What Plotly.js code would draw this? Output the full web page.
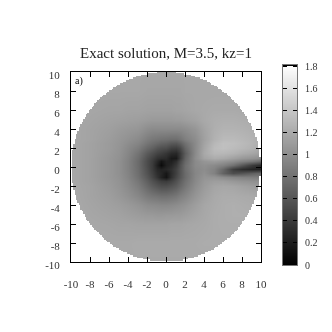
<!DOCTYPE html>
<html><head><meta charset="utf-8">
<script src="https://cdn.plot.ly/plotly-3.0.1.min.js"></script>
<style>html,body{margin:0;padding:0;background:#fff}#c{width:332px;height:332px;filter:blur(.35px)}</style>
</head><body><div id="c"></div>
<script>
const gridX=[-10,-8,-6,-5,-4,-3,-2,-1.5,-1,-.5,0,.5,1,1.5,2,3,4,5,6,7,8,9,10];
const gridY=[-10,-8,-6,-5,-4,-3,-2,-1.5,-1,-.6,-.2,.2,.6,1,1.5,2,2.5,3,4,5,6,8,10];
const solution=[
[1.2,1.2,1.2,1.2,1.2,1.2,1.2,1.2,1.2,1.2,1.2,1.2,1.2,1.2,1.2,1.2,1.2,1.2,1.2,1.2,1.2,1.2,1.2],
[1.2,1.2,1.2,1.2,1.2,1.21,1.21,1.21,1.21,1.21,1.21,1.21,1.21,1.21,1.21,1.21,1.22,1.22,1.22,1.22,1.22,1.22,1.22],
[1.2,1.19,1.18,1.17,1.17,1.16,1.16,1.16,1.16,1.16,1.16,1.17,1.17,1.17,1.18,1.19,1.2,1.22,1.23,1.23,1.23,1.22,1.22],
[1.2,1.18,1.16,1.15,1.13,1.11,1.09,1.09,1.08,1.08,1.09,1.09,1.1,1.1,1.12,1.16,1.19,1.22,1.23,1.24,1.24,1.23,1.22],
[1.2,1.17,1.14,1.12,1.09,1.05,1.0,.99,.98,.97,.97,.98,1.0,1.02,1.05,1.12,1.18,1.21,1.23,1.24,1.23,1.22,1.2],
[1.2,1.16,1.12,1.08,1.03,.96,.87,.84,.82,.8,.8,.82,.85,.9,.95,1.06,1.14,1.2,1.22,1.22,1.21,1.2,1.18],
[1.19,1.16,1.1,1.05,.98,.88,.74,.66,.6,.56,.56,.6,.66,.74,.84,1.0,1.1,1.17,1.19,1.18,1.15,1.12,1.1],
[1.19,1.15,1.09,1.04,.96,.84,.68,.58,.5,.44,.42,.48,.58,.68,.8,.97,1.08,1.12,1.12,1.08,1.05,1.03,1.02],
[1.19,1.15,1.08,1.03,.94,.8,.62,.5,.36,.24,.14,.34,.5,.62,.76,.96,1.05,1.05,1.0,.95,.92,.9,.88],
[1.19,1.15,1.08,1.02,.93,.78,.58,.46,.32,.26,.16,.32,.46,.6,.76,.95,1.02,.92,.7,.55,.6,.68,.75],
[1.19,1.15,1.08,1.02,.92,.77,.56,.43,.28,.24,.28,.34,.46,.6,.78,.96,1.0,.93,.74,.44,.32,.26,.24],
[1.19,1.15,1.08,1.02,.92,.76,.54,.42,.22,.08,.22,.28,.4,.58,.78,.98,1.02,.98,.92,.8,.62,.42,.3],
[1.19,1.15,1.08,1.02,.92,.76,.54,.43,.28,.14,.24,.22,.32,.52,.74,.98,1.06,1.1,1.06,1.0,.92,.85,.75],
[1.19,1.15,1.08,1.03,.93,.78,.57,.47,.36,.32,.3,.18,.18,.42,.7,1.0,1.16,1.22,1.2,1.14,1.08,1.04,1.0],
[1.19,1.15,1.09,1.04,.95,.82,.64,.56,.48,.44,.38,.3,.28,.42,.66,.98,1.2,1.3,1.3,1.27,1.22,1.18,1.12],
[1.19,1.15,1.1,1.05,.97,.88,.74,.68,.6,.56,.54,.46,.44,.52,.72,.98,1.18,1.33,1.36,1.33,1.3,1.26,1.2],
[1.19,1.15,1.1,1.06,1.0,.94,.83,.78,.74,.7,.68,.63,.62,.68,.8,.98,1.16,1.3,1.36,1.35,1.32,1.28,1.22],
[1.19,1.16,1.11,1.07,1.03,.98,.89,.85,.83,.81,.8,.78,.78,.82,.9,1.0,1.14,1.26,1.32,1.32,1.3,1.27,1.22],
[1.19,1.16,1.13,1.1,1.08,1.06,1.0,.98,.98,.98,.98,.98,.98,.98,1.0,1.06,1.16,1.24,1.27,1.27,1.26,1.24,1.22],
[1.19,1.17,1.15,1.14,1.13,1.12,1.1,1.09,1.09,1.09,1.09,1.09,1.1,1.1,1.12,1.15,1.2,1.23,1.24,1.24,1.23,1.22,1.21],
[1.2,1.18,1.17,1.17,1.16,1.16,1.15,1.15,1.15,1.15,1.15,1.15,1.16,1.16,1.17,1.19,1.2,1.21,1.21,1.21,1.2,1.2,1.2],
[1.2,1.19,1.19,1.19,1.19,1.19,1.18,1.18,1.18,1.18,1.18,1.18,1.18,1.18,1.19,1.19,1.19,1.19,1.19,1.19,1.19,1.19,1.19],
[1.2,1.2,1.2,1.2,1.2,1.19,1.19,1.19,1.19,1.19,1.19,1.19,1.19,1.19,1.19,1.19,1.19,1.19,1.19,1.19,1.19,1.19,1.19]
];
const axisTicks=[-10,-8,-6,-4,-2,0,2,4,6,8,10];
const axisLabels=['-10','-8','-6','-4','-2','0','2','4','6','8','10'];
const barLabelVals=[0,.2,.4,.6,.8,1,1.2,1.4,1.6,1.8];
const barLabels=['0','0.2','0.4','0.6','0.8','1','1.2','1.4','1.6','1.8'];
const barX=[0,1];
const barY=[0,1.81];
const barZ=[[0,0],[1.81,1.81]];
const titleText='Exact solution, M=3.5, kz=1';
const panelLabel='a)';
const zMax=1.81;

// white cover outside the circular domain, stepped like the source raster
const maskAxis=[];for(let i=0;i<=134;i++)maskAxis.push(-10+i*.15);
const mask=maskAxis.map(y=>maskAxis.map(x=>Math.hypot(x,y)>10?1:null));

const F='"Liberation Serif",serif';
const grayScale=[[0,'#000'],[1,'#fff']];
const axisBase={range:[-10,10],tickvals:axisTicks,ticktext:axisLabels,ticks:'inside',ticklen:5,tickcolor:'#000',tickwidth:1,
  showline:true,linecolor:'#000',linewidth:1,mirror:'ticks',showgrid:false,zeroline:false,
  tickfont:{family:F,size:11,color:'#333'}};
Plotly.newPlot('c',[
 {type:'heatmap',x:gridX,y:gridY,z:solution,zsmooth:'best',zmin:0,zmax:zMax,colorscale:grayScale,showscale:false},
 {type:'heatmap',x:maskAxis,y:maskAxis,z:mask,zmin:0,zmax:1,showscale:false,hoverinfo:'skip',
  colorscale:[[0,'#fff'],[1,'#fff']]},
 {type:'heatmap',x:barX,y:barY,z:barZ,xaxis:'x2',yaxis:'y2',zsmooth:'best',zmin:0,zmax:zMax,colorscale:grayScale,showscale:false}
],{
 width:332,height:332,margin:{l:71,r:35,t:65,b:67},paper_bgcolor:'#fff',plot_bgcolor:'#fff',
 title:{text:titleText,font:{family:F,size:15,color:'#222'},x:166/332,xanchor:'center',y:(332-53)/332,yanchor:'middle'},
 xaxis:Object.assign({},axisBase,{domain:[0,190/226],anchor:'y',ticklabelstandoff:12,ticklabelshift:-1.5}),
 yaxis:Object.assign({},axisBase,{domain:[3/200,193/200],anchor:'x',ticklabelshift:3,ticklabelstandoff:8}),
 xaxis2:{domain:[212/226,1],anchor:'y2',range:[0,1],showticklabels:false,ticks:'',showgrid:false,zeroline:false,
   showline:true,linecolor:'#777',linewidth:1,mirror:true},
 yaxis2:{domain:[0,1],anchor:'x2',side:'right',range:[0,1.81],tickvals:barLabelVals,ticktext:barLabels,ticks:'inside',ticklen:4,
   tickcolor:'#000',tickwidth:1,showline:true,linecolor:'#777',linewidth:1,mirror:'ticks',showgrid:false,zeroline:false,
   ticklabelshift:3.5,ticklabelstandoff:5,tickfont:{family:F,size:10,color:'#333'}},
 shapes:[{type:'line',xref:'x2',yref:'y2',x0:0,x1:1,y0:1.81,y1:1.81,line:{color:'#000',width:2}}],
 annotations:[{text:panelLabel,xref:'x',yref:'y',x:-9.8,y:9.05,xanchor:'left',yanchor:'middle',showarrow:false,
   font:{family:F,size:10,color:'#000'}}]
},{displayModeBar:false,staticPlot:true});
</script></body></html>
